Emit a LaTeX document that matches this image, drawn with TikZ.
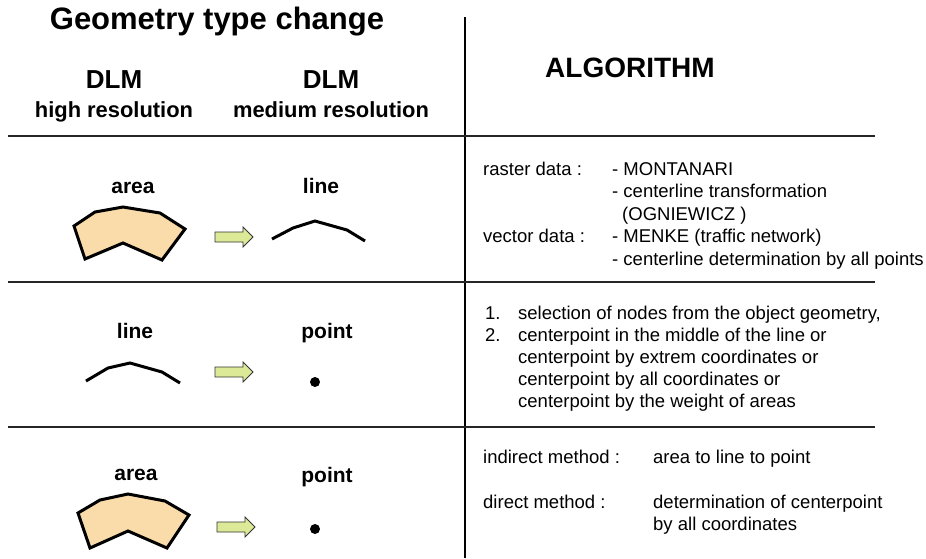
\documentclass[tikz,border=0pt]{standalone}
\usepackage{fontspec}
\setmainfont{Liberation Sans}
\tikzset{
  title/.style={font=\fontsize{31}{37}\selectfont\bfseries, inner sep=0pt, anchor=base},
  dlm/.style={font=\fontsize{26}{31}\selectfont\bfseries, inner sep=0pt, anchor=base},
  res/.style={font=\fontsize{21.9}{26}\selectfont\bfseries, inner sep=0pt, anchor=base},
  lbl/.style={font=\fontsize{21}{25}\selectfont\bfseries, inner sep=0pt, anchor=base},
  body/.style={font=\fontsize{18.5}{22}\selectfont, inner sep=0pt, anchor=base west},
  rule/.style={line width=1.6pt, black!85},
  area/.style={draw=black, line width=3pt, fill=areafill, line join=miter},
  geoline/.style={draw=black, line width=3pt, line join=miter},
  barrow/.style={draw=black!80, line width=0.8pt, fill=arrowfill},
}
\definecolor{areafill}{RGB}{250,220,170}
\definecolor{arrowfill}{RGB}{220,234,152}
\begin{document}
\begin{tikzpicture}[x=1pt,y=-1pt]
\useasboundingbox (0,0) rectangle (926,558);
% headings
\node[title] (title) at (217,29) {Geometry type change};
\node[dlm] (dlm1) at (114,88) {DLM};
\node[dlm] (dlm2) at (331,88) {DLM};
\node[res] (hr) at (114,117) {high resolution};
\node[res] (mr) at (331,117) {medium resolution};
\node[font=\fontsize{28}{33}\selectfont\bfseries, inner sep=0pt, anchor=base] (alg) at (630,77) {ALGORITHM};
% rules
\coordinate (vt) at (465,17);
\coordinate (vb) at (465,558);
\draw[line width=2.4pt] (vt) -- (vb);
\coordinate (h1l) at (8,136); \coordinate (h1r) at (875,136);
\coordinate (h2l) at (8,282); \coordinate (h2r) at (875,282);
\coordinate (h3l) at (8,427); \coordinate (h3r) at (875,427);
\draw[rule] (h1l) -- (h1r);
\draw[rule] (h2l) -- (h2r);
\draw[rule] (h3l) -- (h3r);
% ---- row 1
\node[lbl] (r1a) at (133,193) {area};
\node[lbl] (r1b) at (321,193) {line};
\draw[area] (74,226) -- (95,212) -- (123,207) -- (160,213) -- (185,229) -- (162,260) -- (123,243) -- (85,259) -- cycle;
\draw[barrow] (215,232) -- (243,232) -- (243,227) -- (253,237) -- (243,247) -- (243,242) -- (215,242) -- cycle;
\draw[geoline] (272,239) -- (293,228) -- (315,221) -- (347,230) -- (365,241);
\node[body] (t11) at (483,175) {raster data :};
\node[body] (t12) at (612,175) {- MONTANARI};
\node[body] (t13) at (612,197.5) {- centerline transformation};
\node[body] (t14) at (622,220) {(OGNIEWICZ )};
\node[body] (t15) at (483,242.5) {vector data :};
\node[body] (t16) at (612,242.5) {- MENKE (traffic network)};
\node[body] (t17) at (612,265) {- centerline determination by all points};
% ---- row 2
\node[lbl] (r2a) at (135,338) {line};
\node[lbl] (r2b) at (327,338) {point};
\draw[geoline] (86,381) -- (108,368) -- (130,363) -- (162,372) -- (180,383);
\draw[barrow] (215,367) -- (243,367) -- (243,362) -- (253,372) -- (243,382) -- (243,377) -- (215,377) -- cycle;
\fill (315,382) circle (5);
\node[body] (n1) at (485,319) {1.};
\node[body] (t21) at (518,319) {selection of nodes from the object geometry,};
\node[body] (n2) at (485,341) {2.};
\node[body] (t22) at (518,341) {centerpoint in the middle of the line or};
\node[body] (t23) at (518,363) {centerpoint by extrem coordinates or};
\node[body] (t24) at (518,385) {centerpoint by all coordinates or};
\node[body] (t25) at (518,407) {centerpoint by the weight of areas};
% ---- row 3
\node[lbl] (r3a) at (136,480) {area};
\node[lbl] (r3b) at (327,482) {point};
\draw[area] (78,513) -- (100,500) -- (128,494) -- (165,501) -- (189,515) -- (167,548) -- (128,531) -- (90,548) -- cycle;
\draw[barrow] (217,522) -- (245,522) -- (245,517) -- (255,527) -- (245,537) -- (245,532) -- (217,532) -- cycle;
\fill (315,529) circle (5);
\node[body] (t31) at (483,463) {indirect method :};
\node[body] (t32) at (653,463) {area to line to point};
\node[body] (t33) at (483,508) {direct method :};
\node[body] (t34) at (653,508) {determination of centerpoint};
\node[body] (t35) at (653,530.5) {by all coordinates};
\end{tikzpicture}
\end{document}
